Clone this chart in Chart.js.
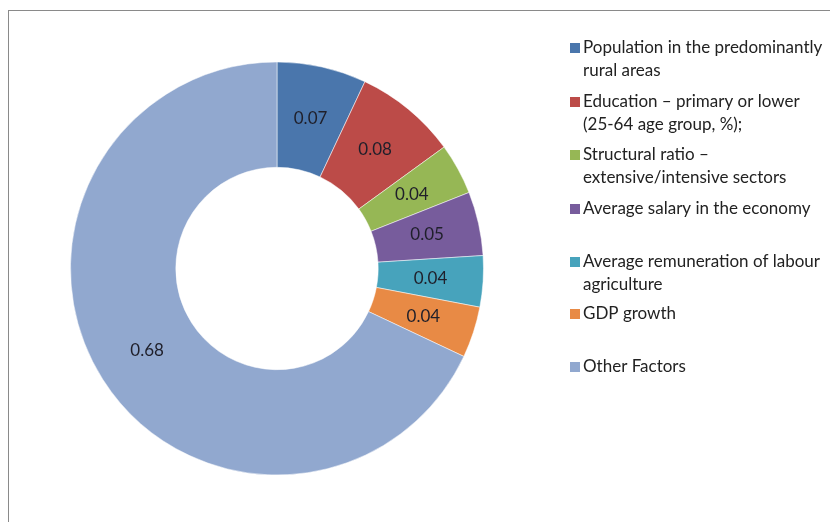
<!DOCTYPE html>
<html><head><meta charset="utf-8">
<script src="https://cdn.jsdelivr.net/npm/chart.js@4/dist/chart.umd.min.js"></script>
<style>
html,body{margin:0;padding:0;background:#fff;}
#wrap{position:relative;width:830px;height:522px;overflow:hidden;}
#frame{position:absolute;left:8px;top:10px;width:900px;height:600px;border:1px solid #8a8a8a;box-sizing:border-box;}
canvas{position:absolute;left:0;top:0;}
</style></head>
<body><div id="wrap"><div id="frame"></div><canvas id="c" width="830" height="522"></canvas></div>
<script>
const categories = [
  ["Population in the predominantly", "rural areas"],
  ["Education \u2013 primary or lower", "(25-64 age group, %);"],
  ["Structural ratio \u2013", "extensive/intensive sectors"],
  ["Average salary in the economy"],
  ["Average remuneration of labour", "agriculture"],
  ["GDP growth"],
  ["Other Factors"]
];
const values = [0.07, 0.08, 0.04, 0.05, 0.04, 0.04, 0.68];
const valueLabels = ["0.07", "0.08", "0.04", "0.05", "0.04", "0.04", "0.68"];
const colors = ["#4A76AC", "#BC4B48", "#96B755", "#775C9C", "#47A3BC", "#E88A45", "#91A8CF"];
const legendY = [48, 102, 155, 209, 262, 314, 367];

const FONT = "Lato, 'Open Sans', sans-serif";

const valueLabelPlugin = {
  id: 'valueLabels',
  afterDatasetsDraw(chart) {
    const ctx = chart.ctx;
    const meta = chart.getDatasetMeta(0);
    ctx.save();
    ctx.font = "17px " + FONT;
    ctx.fillStyle = "#1f1f2a";
    ctx.textAlign = "center";
    ctx.textBaseline = "middle";
    meta.data.forEach((arc, i) => {
      const p = arc.tooltipPosition();
      ctx.fillText(valueLabels[i], p.x, p.y);
    });
    ctx.restore();
  }
};

const legendPlugin = {
  id: 'sideLegend',
  afterDraw(chart) {
    const ctx = chart.ctx;
    ctx.save();
    ctx.font = "17px " + FONT;
    ctx.textBaseline = "middle";
    ctx.textAlign = "left";
    chart.data.labels.forEach((lines, i) => {
      const y = legendY[i];
      ctx.fillStyle = chart.data.datasets[0].backgroundColor[i];
      ctx.fillRect(570, y - 5, 10, 10);
      ctx.fillStyle = "#222";
      lines.forEach((t, j) => ctx.fillText(t, 583, y + j * 23));
    });
    ctx.restore();
  }
};

new Chart(document.getElementById('c'), {
  type: 'doughnut',
  data: {
    labels: categories,
    datasets: [{
      data: values,
      backgroundColor: colors,
      borderColor: "rgba(255,255,255,0.5)",
      borderWidth: 1
    }]
  },
  options: {
    responsive: false,
    animation: false,
    cutout: '49%',
    layout: { padding: { left: 70, right: 346, top: 61, bottom: 46 } },
    plugins: { legend: { display: false }, tooltip: { enabled: false } }
  },
  plugins: [valueLabelPlugin, legendPlugin]
});
</script></body></html>
